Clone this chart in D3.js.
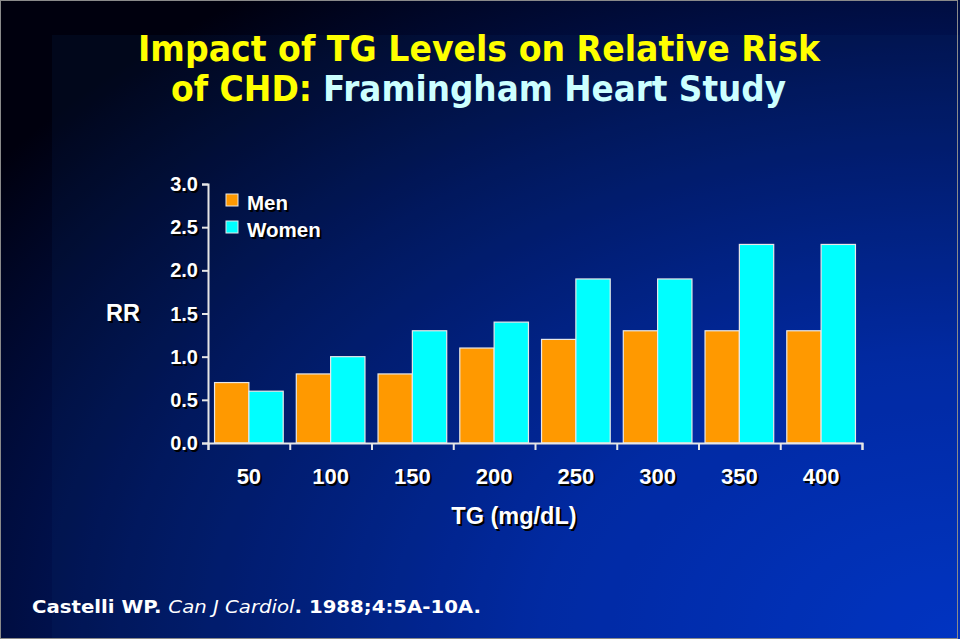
<!DOCTYPE html>
<html><head><meta charset="utf-8">
<script src="https://cdn.jsdelivr.net/npm/d3@7"></script>
<style>html,body{margin:0;padding:0;background:#000;}svg{display:block;}</style>
</head><body>
<script>
const categories = ["50","100","150","200","250","300","350","400"];
const seriesNames = ["Men","Women"];
const men = [0.7,0.8,0.8,1.1,1.2,1.3,1.3,1.3];
const women = [0.6,1.0,1.3,1.4,1.9,1.9,2.3,2.3];
const yTicks = [0,0.5,1.0,1.5,2.0,2.5,3.0];
const colors = {Men:"#ff9900", Women:"#00ffff"};

const W=960,H=639;
const svg=d3.select("body").append("svg").attr("width",W).attr("height",H);
const defs=svg.append("defs");
const rg=defs.append("radialGradient").attr("id","bg").attr("cx","100%").attr("cy","100%").attr("r","125%");
rg.append("stop").attr("offset","0").attr("stop-color","#0034cc");
rg.append("stop").attr("offset","0.35").attr("stop-color","#0028a8");
rg.append("stop").attr("offset","0.7").attr("stop-color","#00145a");
rg.append("stop").attr("offset","1").attr("stop-color","#00000e");

svg.append("rect").attr("width",W).attr("height",H).attr("fill","url(#bg)");
svg.append("rect").attr("x",52).attr("y",35).attr("width",W-52).attr("height",H-35).attr("fill","#0a3a7a").attr("opacity",0.12);
svg.append("rect").attr("x",0.5).attr("y",0.5).attr("width",W-3).attr("height",H-1).attr("fill","none").attr("stroke","#8a8a8a").attr("stroke-width",1);

// shadowed text helper (black copy offset behind white text)
function stext(g,x,y,txt,opts){
  const mk=(dx,dy,fill)=>g.append("text").attr("x",x+dx).attr("y",y+dy).attr("fill",fill)
      .attr("font-family",opts.family||"'Liberation Sans', Arial, sans-serif")
      .attr("font-weight",opts.weight||"bold").attr("font-size",opts.size)
      .attr("text-anchor",opts.anchor||"start").text(txt);
  mk(2,2,"#000");
  return mk(0,0,opts.fill||"#fff");
}

// Title
const tf="Tahoma, 'DejaVu Sans', sans-serif";
svg.append("text").attr("x",138).attr("y",61).attr("font-family",tf).attr("font-weight","bold")
  .attr("font-size",36).attr("fill","#ffff00").attr("textLength",682).attr("lengthAdjust","spacingAndGlyphs")
  .text("Impact of TG Levels on Relative Risk");
svg.append("text").attr("x",171).attr("y",101).attr("font-family",tf).attr("font-weight","bold")
  .attr("font-size",36).attr("fill","#ffff00").attr("textLength",141).attr("lengthAdjust","spacingAndGlyphs")
  .text("of CHD:");
svg.append("text").attr("x",323).attr("y",101).attr("font-family",tf).attr("font-weight","bold")
  .attr("font-size",36).attr("fill","#ccffff").attr("textLength",463).attr("lengthAdjust","spacingAndGlyphs")
  .text("Framingham Heart Study");

// Scales
const x0=d3.scaleBand().domain(categories).range([208,862]).paddingInner(0.16).paddingOuter(0.08);
const x1=d3.scaleBand().domain(seriesNames).range([0,x0.bandwidth()]);
const y=d3.scaleLinear().domain([0,3]).range([443,184]);

// Bars
const data=categories.map((c,i)=>({cat:c,vals:[{k:"Men",v:men[i]},{k:"Women",v:women[i]}]}));
const gb=svg.append("g");
gb.selectAll("g").data(data).join("g").attr("transform",d=>`translate(${x0(d.cat)},0)`)
  .selectAll("rect").data(d=>d.vals).join("rect")
  .attr("x",d=>x1(d.k)).attr("y",d=>y(d.v)).attr("width",x1.bandwidth()).attr("height",d=>y(0)-y(d.v))
  .attr("fill",d=>colors[d.k]).attr("stroke","#e8e8e8").attr("stroke-width",1.2);

// Y axis
const ya=svg.append("g").attr("transform","translate(208,0)")
  .call(d3.axisLeft(y).tickValues(yTicks).tickFormat(d3.format(".1f")).tickSize(6).tickPadding(4));
ya.select(".domain").attr("stroke","#e6e6e6").attr("stroke-width",2);
ya.selectAll(".tick line").attr("stroke","#e6e6e6").attr("stroke-width",2);
ya.selectAll(".tick text").remove();
yTicks.forEach(t=>{ stext(svg,198,y(t)+7,d3.format(".1f")(t),{size:20,anchor:"end"}); });

// X axis with ticks at group boundaries
const xEdge=d3.scaleLinear().domain([0,categories.length]).range([208,862]);
const xa=svg.append("g").attr("transform","translate(0,443)")
  .call(d3.axisBottom(xEdge).tickValues(d3.range(0,categories.length+1)).tickSize(7).tickFormat(""));
xa.select(".domain").attr("stroke","#e6e6e6").attr("stroke-width",2);
xa.selectAll(".tick line").attr("stroke","#e6e6e6").attr("stroke-width",2);
categories.forEach(c=>{ stext(svg,x0(c)+x0.bandwidth()/2,484,c,{size:22,anchor:"middle"}); });

stext(svg,514,524,"TG (mg/dL)",{size:23.5,anchor:"middle"});
stext(svg,123,321,"RR",{size:23.5,anchor:"middle"});

// Legend
const lg=svg.append("g");
seriesNames.forEach((s,i)=>{
  const yy=194+i*27;
  lg.append("rect").attr("x",226).attr("y",yy).attr("width",12).attr("height",12)
    .attr("fill",colors[s]).attr("stroke","#e8e8e8").attr("stroke-width",1);
  stext(lg,247,yy+16,s,{size:20.5});
});

// Footer
const ft=svg.append("text").attr("x",32).attr("y",613).attr("font-family","'DejaVu Sans', Verdana, sans-serif")
  .attr("font-size",18.5).attr("fill","#fff").attr("textLength",449).attr("lengthAdjust","spacingAndGlyphs");
ft.append("tspan").attr("font-weight","bold").text("Castelli WP. ");
ft.append("tspan").attr("font-style","italic").text("Can J Cardiol");
ft.append("tspan").attr("font-weight","bold").text(". 1988;4:5A-10A.");
</script>
</body></html>
